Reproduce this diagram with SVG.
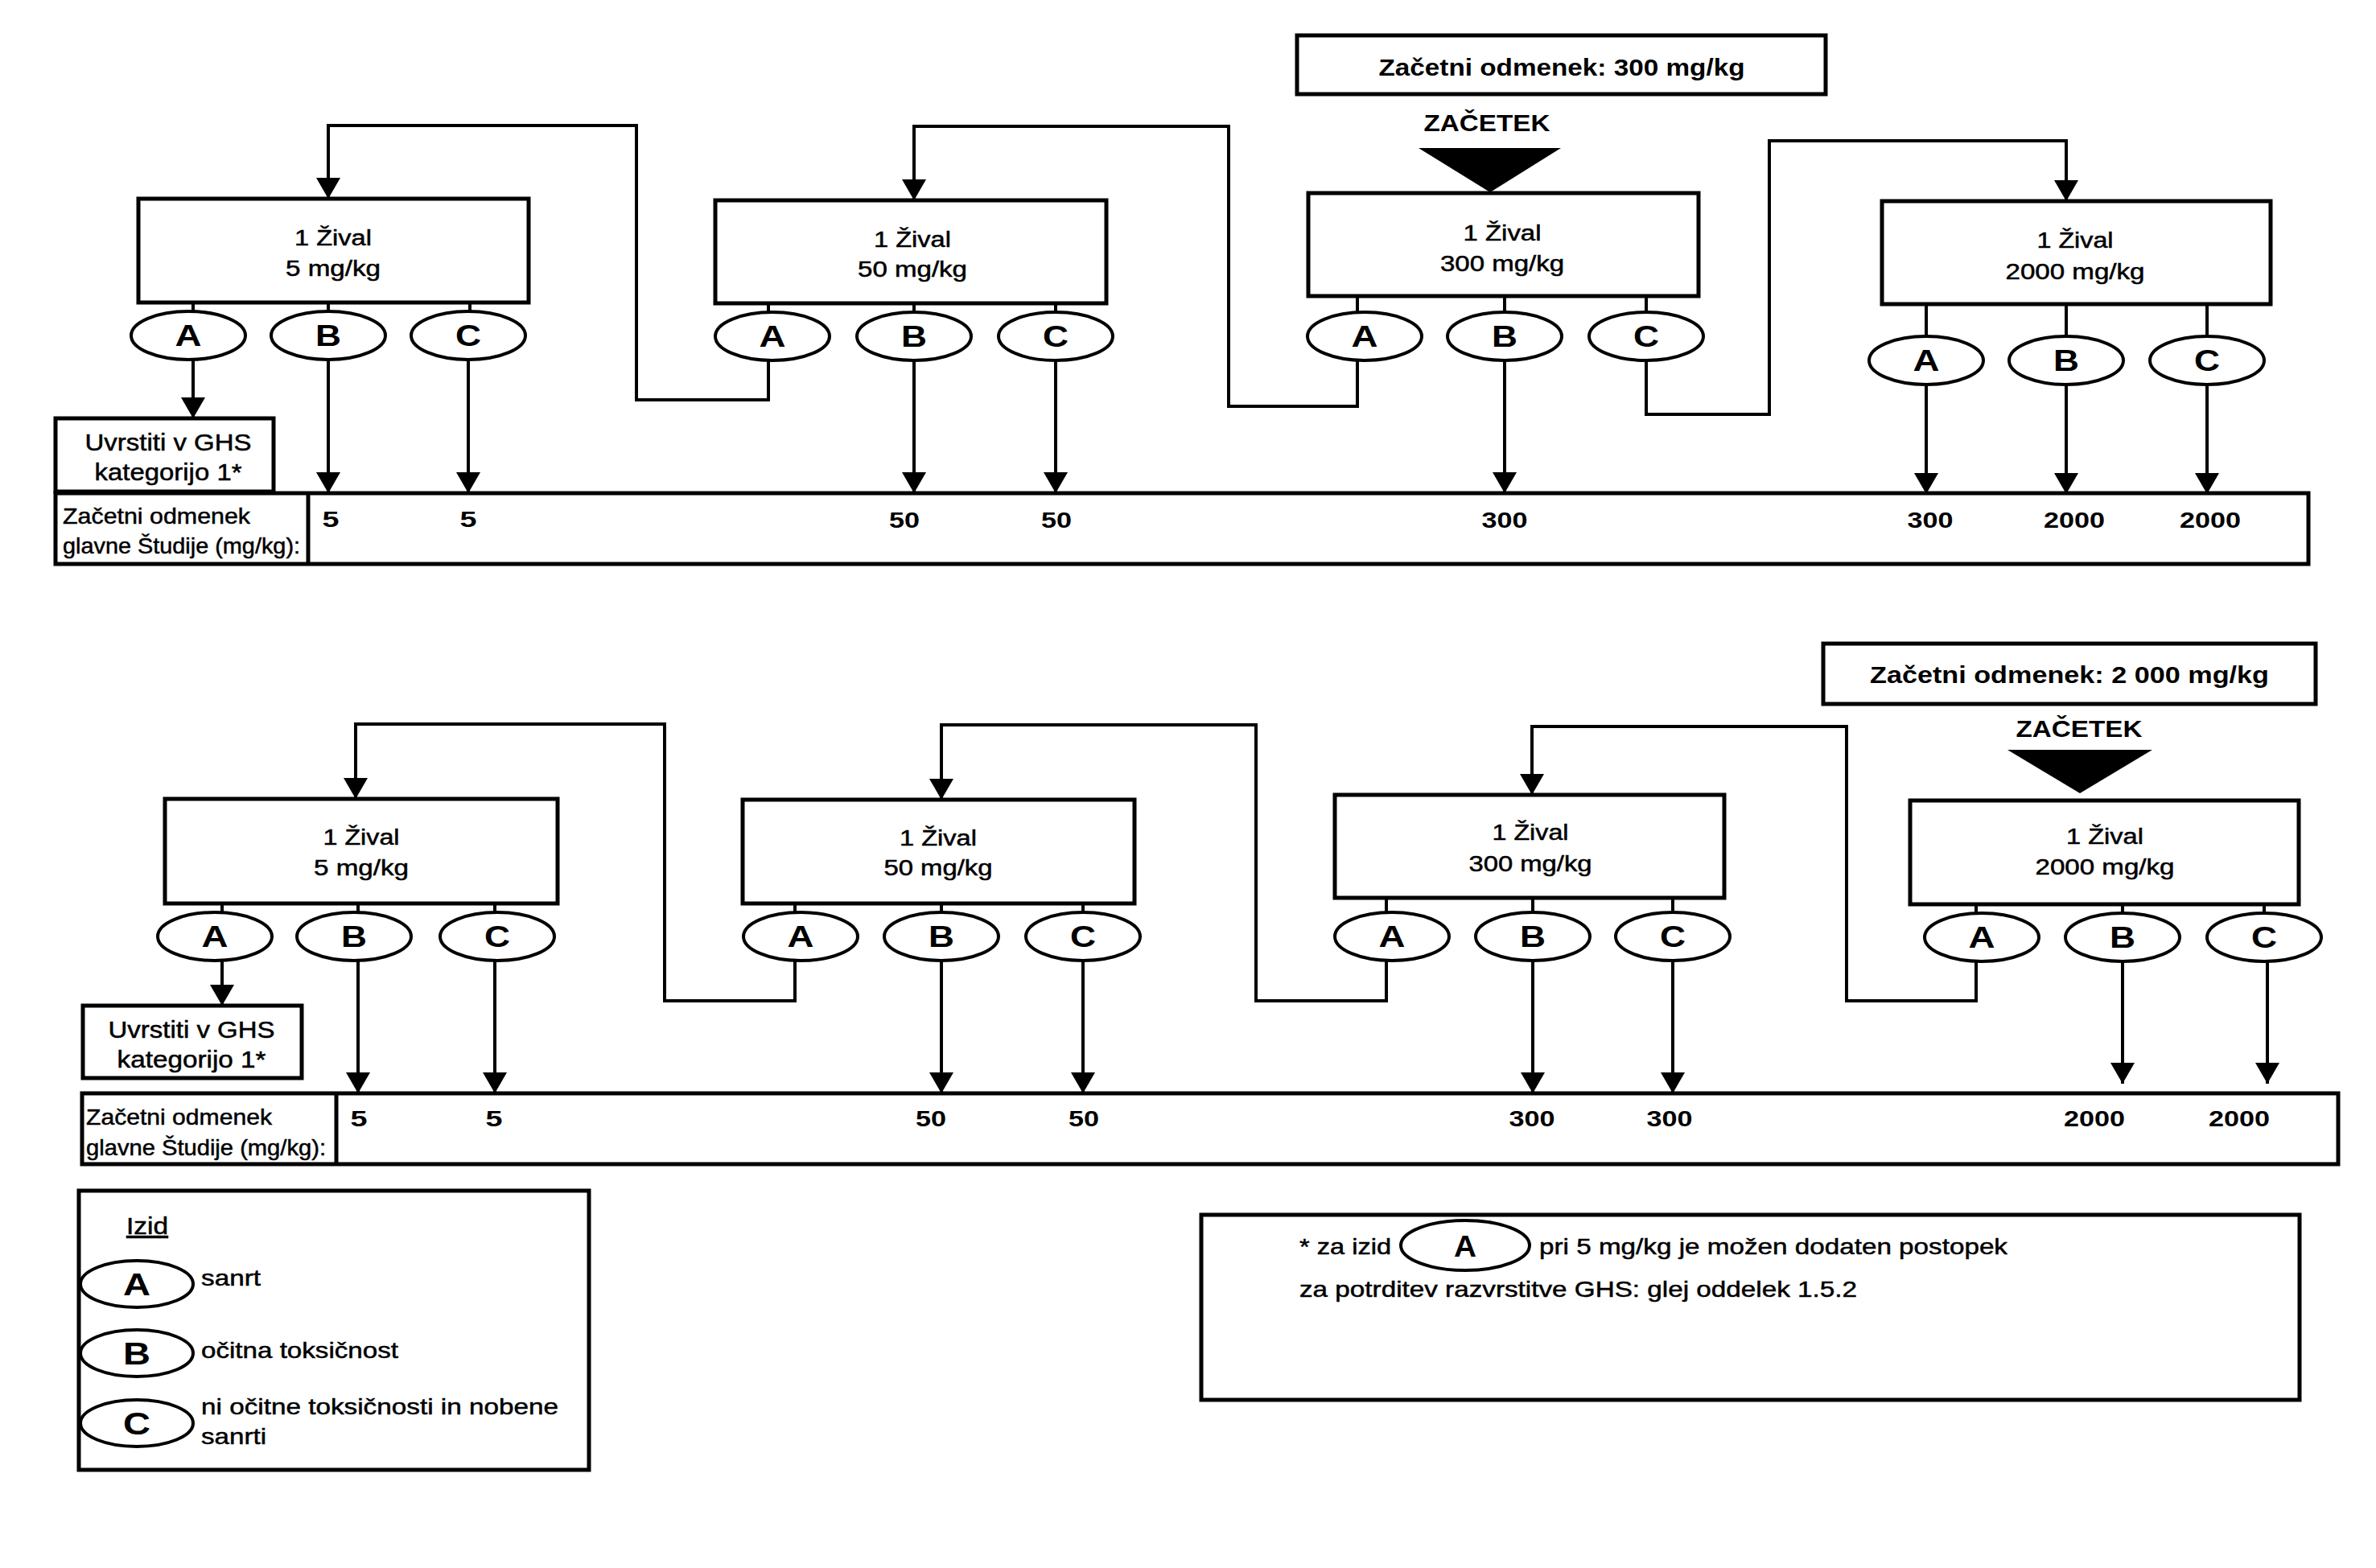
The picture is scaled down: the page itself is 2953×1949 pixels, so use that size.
<svg xmlns="http://www.w3.org/2000/svg" width="2953" height="1949" viewBox="0 0 2953 1949">
<defs>
<style>
.bx{fill:#fff;stroke:#000;stroke-width:5}
.el{fill:#fff;stroke:#000;stroke-width:4}
.cn{fill:none;stroke:#000;stroke-width:4}
.ar{fill:none;stroke:#000;stroke-width:4;marker-end:url(#ah)}
text{font-family:"Liberation Sans",Arial,sans-serif;fill:#000}
.t{font-size:27px;text-anchor:middle;stroke:#000;stroke-width:0.5}
.g{font-size:29px;text-anchor:middle;stroke:#000;stroke-width:0.5}
.lt{font-size:36px;font-weight:bold;text-anchor:middle}
.lt2{font-size:39px;font-weight:bold;text-anchor:middle}
.n{font-size:28px;font-weight:bold;text-anchor:middle}
.lb{font-size:28px;stroke:#000;stroke-width:0.5}
.hd{font-size:30px;font-weight:bold;text-anchor:middle}
.st{font-size:30px;font-weight:bold;text-anchor:middle}
</style>
<marker id="ah" markerUnits="userSpaceOnUse" markerWidth="26" markerHeight="30" viewBox="0 0 26 30" refX="26" refY="15" orient="auto"><path d="M0,0 L26,15 L0,30 z" fill="#000"/></marker>
</defs>
<rect width="2953" height="1949" fill="#fff"/>

<g id="connectors">
<path class="cn" d="M240,376V387M408,376V387M584,376V387M955,377V388M1136,377V388M1312,377V388M1687,368V388M1870,368V388M2046,368V388M2394,378V418M2568,378V418M2743,378V418"/>
<path class="ar" d="M240,447V520"/>
<path class="ar" d="M408,447V613"/>
<path class="ar" d="M582,447V613"/>
<path class="ar" d="M1136,448V613"/>
<path class="ar" d="M1312,448V613"/>
<path class="ar" d="M1870,448V613"/>
<path class="ar" d="M2394,478V614"/>
<path class="ar" d="M2568,478V614"/>
<path class="ar" d="M2743,478V614"/>
<path class="ar" d="M955,448V497H791V156H408V247"/>
<path class="ar" d="M1687,448V505H1527V157H1136V249"/>
<path class="ar" d="M2046,448V515H2199V175H2568V250"/>
<path class="cn" d="M276,1123V1134M445,1123V1134M615,1123V1134M988,1123V1134M1170,1123V1134M1346,1123V1134M1723,1116V1134M1905,1116V1134M2079,1116V1134M2456,1124V1135M2638,1124V1135M2814,1124V1135"/>
<path class="ar" d="M276,1194V1250"/>
<path class="ar" d="M445,1194V1359"/>
<path class="ar" d="M615,1194V1359"/>
<path class="ar" d="M1170,1194V1359"/>
<path class="ar" d="M1346,1194V1359"/>
<path class="ar" d="M1905,1194V1359"/>
<path class="ar" d="M2079,1194V1359"/>
<path class="ar" d="M2638,1195V1347"/>
<path class="ar" d="M2818,1195V1347"/>
<path class="ar" d="M988,1194V1244H826V900H442V993"/>
<path class="ar" d="M1723,1194V1244H1561V901H1170V994"/>
<path class="ar" d="M2456,1195V1244H2295V903H1904V988"/>
</g>

<g id="start-top">
<rect class="bx" x="1612" y="44" width="657" height="73"/>
<text class="hd" x="1941" y="94" textLength="455" lengthAdjust="spacingAndGlyphs">Začetni odmenek: 300 mg/kg</text>
<text class="st" x="1848" y="163" textLength="157" lengthAdjust="spacingAndGlyphs">ZAČETEK</text>
<polygon points="1763,184 1940,184 1852,239" fill="#000"/>
</g>

<g id="t-box1">
<rect class="bx" x="172" y="247" width="485" height="129"/>
<text class="t" x="414" y="305" textLength="96" lengthAdjust="spacingAndGlyphs">1 Žival</text>
<text class="t" x="414" y="343" textLength="118" lengthAdjust="spacingAndGlyphs">5 mg/kg</text>
</g>
<g id="t-box2">
<rect class="bx" x="889" y="249" width="486" height="128"/>
<text class="t" x="1134" y="307" textLength="96" lengthAdjust="spacingAndGlyphs">1 Žival</text>
<text class="t" x="1134" y="344" textLength="136" lengthAdjust="spacingAndGlyphs">50 mg/kg</text>
</g>
<g id="t-box3">
<rect class="bx" x="1626" y="240" width="485" height="128"/>
<text class="t" x="1867" y="299" textLength="97" lengthAdjust="spacingAndGlyphs">1 Žival</text>
<text class="t" x="1867" y="337" textLength="154" lengthAdjust="spacingAndGlyphs">300 mg/kg</text>
</g>
<g id="t-box4">
<rect class="bx" x="2339" y="250" width="483" height="128"/>
<text class="t" x="2579" y="308" textLength="95" lengthAdjust="spacingAndGlyphs">1 Žival</text>
<text class="t" x="2579" y="347" textLength="173" lengthAdjust="spacingAndGlyphs">2000 mg/kg</text>
</g>

<g id="t-outcomes">
<g id="t1A"><ellipse class="el" cx="234" cy="417" rx="71" ry="30"/><text class="lt" x="234" y="430" textLength="33" lengthAdjust="spacingAndGlyphs">A</text></g>
<g id="t1B"><ellipse class="el" cx="408" cy="417" rx="71" ry="30"/><text class="lt" x="408" y="430" textLength="32" lengthAdjust="spacingAndGlyphs">B</text></g>
<g id="t1C"><ellipse class="el" cx="582" cy="417" rx="71" ry="30"/><text class="lt" x="582" y="430" textLength="32" lengthAdjust="spacingAndGlyphs">C</text></g>
<g id="t2A"><ellipse class="el" cx="960" cy="418" rx="71" ry="30"/><text class="lt" x="960" y="431" textLength="33" lengthAdjust="spacingAndGlyphs">A</text></g>
<g id="t2B"><ellipse class="el" cx="1136" cy="418" rx="71" ry="30"/><text class="lt" x="1136" y="431" textLength="32" lengthAdjust="spacingAndGlyphs">B</text></g>
<g id="t2C"><ellipse class="el" cx="1312" cy="418" rx="71" ry="30"/><text class="lt" x="1312" y="431" textLength="32" lengthAdjust="spacingAndGlyphs">C</text></g>
<g id="t3A"><ellipse class="el" cx="1696" cy="418" rx="71" ry="30"/><text class="lt" x="1696" y="431" textLength="33" lengthAdjust="spacingAndGlyphs">A</text></g>
<g id="t3B"><ellipse class="el" cx="1870" cy="418" rx="71" ry="30"/><text class="lt" x="1870" y="431" textLength="32" lengthAdjust="spacingAndGlyphs">B</text></g>
<g id="t3C"><ellipse class="el" cx="2046" cy="418" rx="71" ry="30"/><text class="lt" x="2046" y="431" textLength="32" lengthAdjust="spacingAndGlyphs">C</text></g>
<g id="t4A"><ellipse class="el" cx="2394" cy="448" rx="71" ry="30"/><text class="lt" x="2394" y="461" textLength="33" lengthAdjust="spacingAndGlyphs">A</text></g>
<g id="t4B"><ellipse class="el" cx="2568" cy="448" rx="71" ry="30"/><text class="lt" x="2568" y="461" textLength="32" lengthAdjust="spacingAndGlyphs">B</text></g>
<g id="t4C"><ellipse class="el" cx="2743" cy="448" rx="71" ry="30"/><text class="lt" x="2743" y="461" textLength="32" lengthAdjust="spacingAndGlyphs">C</text></g>
</g>

<g id="t-ghs">
<rect class="bx" x="69" y="520" width="271" height="91"/>
<text class="g" x="209" y="560" textLength="207" lengthAdjust="spacingAndGlyphs">Uvrstiti v GHS</text>
<text class="g" x="209" y="597" textLength="183" lengthAdjust="spacingAndGlyphs">kategorijo 1*</text>
</g>

<g id="t-table">
<rect class="bx" x="69" y="613" width="2800" height="88"/>
<line x1="383" y1="613" x2="383" y2="701" stroke="#000" stroke-width="5"/>
<text class="lb" x="78" y="651" textLength="233" lengthAdjust="spacingAndGlyphs">Začetni odmenek</text>
<text class="lb" x="78" y="688" textLength="295" lengthAdjust="spacingAndGlyphs">glavne Študije (mg/kg):</text>
<text class="n" x="411" y="655" textLength="21" lengthAdjust="spacingAndGlyphs">5</text>
<text class="n" x="582" y="655" textLength="21" lengthAdjust="spacingAndGlyphs">5</text>
<text class="n" x="1124" y="656" textLength="38" lengthAdjust="spacingAndGlyphs">50</text>
<text class="n" x="1313" y="656" textLength="38" lengthAdjust="spacingAndGlyphs">50</text>
<text class="n" x="1870" y="656" textLength="57" lengthAdjust="spacingAndGlyphs">300</text>
<text class="n" x="2399" y="656" textLength="57" lengthAdjust="spacingAndGlyphs">300</text>
<text class="n" x="2578" y="656" textLength="76" lengthAdjust="spacingAndGlyphs">2000</text>
<text class="n" x="2747" y="656" textLength="76" lengthAdjust="spacingAndGlyphs">2000</text>
</g>

<g id="start-bottom">
<rect class="bx" x="2266" y="800" width="612" height="75"/>
<text class="hd" x="2572" y="849" textLength="496" lengthAdjust="spacingAndGlyphs">Začetni odmenek: 2 000 mg/kg</text>
<text class="st" x="2584" y="916" textLength="157" lengthAdjust="spacingAndGlyphs">ZAČETEK</text>
<polygon points="2495,932 2675,932 2585,986" fill="#000"/>
</g>

<g id="b-box1">
<rect class="bx" x="205" y="993" width="488" height="130"/>
<text class="t" x="449" y="1050" textLength="95" lengthAdjust="spacingAndGlyphs">1 Žival</text>
<text class="t" x="449" y="1088" textLength="118" lengthAdjust="spacingAndGlyphs">5 mg/kg</text>
</g>
<g id="b-box2">
<rect class="bx" x="923" y="994" width="487" height="129"/>
<text class="t" x="1166" y="1051" textLength="96" lengthAdjust="spacingAndGlyphs">1 Žival</text>
<text class="t" x="1166" y="1088" textLength="135" lengthAdjust="spacingAndGlyphs">50 mg/kg</text>
</g>
<g id="b-box3">
<rect class="bx" x="1659" y="988" width="484" height="128"/>
<text class="t" x="1902" y="1044" textLength="95" lengthAdjust="spacingAndGlyphs">1 Žival</text>
<text class="t" x="1902" y="1083" textLength="153" lengthAdjust="spacingAndGlyphs">300 mg/kg</text>
</g>
<g id="b-box4">
<rect class="bx" x="2374" y="995" width="483" height="129"/>
<text class="t" x="2616" y="1049" textLength="96" lengthAdjust="spacingAndGlyphs">1 Žival</text>
<text class="t" x="2616" y="1087" textLength="173" lengthAdjust="spacingAndGlyphs">2000 mg/kg</text>
</g>

<g id="b-outcomes">
<g id="b1A"><ellipse class="el" cx="267" cy="1164" rx="71" ry="30"/><text class="lt" x="267" y="1177" textLength="33" lengthAdjust="spacingAndGlyphs">A</text></g>
<g id="b1B"><ellipse class="el" cx="440" cy="1164" rx="71" ry="30"/><text class="lt" x="440" y="1177" textLength="32" lengthAdjust="spacingAndGlyphs">B</text></g>
<g id="b1C"><ellipse class="el" cx="618" cy="1164" rx="71" ry="30"/><text class="lt" x="618" y="1177" textLength="32" lengthAdjust="spacingAndGlyphs">C</text></g>
<g id="b2A"><ellipse class="el" cx="995" cy="1164" rx="71" ry="30"/><text class="lt" x="995" y="1177" textLength="33" lengthAdjust="spacingAndGlyphs">A</text></g>
<g id="b2B"><ellipse class="el" cx="1170" cy="1164" rx="71" ry="30"/><text class="lt" x="1170" y="1177" textLength="32" lengthAdjust="spacingAndGlyphs">B</text></g>
<g id="b2C"><ellipse class="el" cx="1346" cy="1164" rx="71" ry="30"/><text class="lt" x="1346" y="1177" textLength="32" lengthAdjust="spacingAndGlyphs">C</text></g>
<g id="b3A"><ellipse class="el" cx="1730" cy="1164" rx="71" ry="30"/><text class="lt" x="1730" y="1177" textLength="33" lengthAdjust="spacingAndGlyphs">A</text></g>
<g id="b3B"><ellipse class="el" cx="1905" cy="1164" rx="71" ry="30"/><text class="lt" x="1905" y="1177" textLength="32" lengthAdjust="spacingAndGlyphs">B</text></g>
<g id="b3C"><ellipse class="el" cx="2079" cy="1164" rx="71" ry="30"/><text class="lt" x="2079" y="1177" textLength="32" lengthAdjust="spacingAndGlyphs">C</text></g>
<g id="b4A"><ellipse class="el" cx="2463" cy="1165" rx="71" ry="30"/><text class="lt" x="2463" y="1178" textLength="33" lengthAdjust="spacingAndGlyphs">A</text></g>
<g id="b4B"><ellipse class="el" cx="2638" cy="1165" rx="71" ry="30"/><text class="lt" x="2638" y="1178" textLength="32" lengthAdjust="spacingAndGlyphs">B</text></g>
<g id="b4C"><ellipse class="el" cx="2814" cy="1165" rx="71" ry="30"/><text class="lt" x="2814" y="1178" textLength="32" lengthAdjust="spacingAndGlyphs">C</text></g>
</g>

<g id="b-ghs">
<rect class="bx" x="103" y="1250" width="272" height="90"/>
<text class="g" x="238" y="1290" textLength="207" lengthAdjust="spacingAndGlyphs">Uvrstiti v GHS</text>
<text class="g" x="238" y="1327" textLength="185" lengthAdjust="spacingAndGlyphs">kategorijo 1*</text>
</g>

<g id="b-table">
<rect class="bx" x="102" y="1359" width="2804" height="88"/>
<line x1="418" y1="1359" x2="418" y2="1447" stroke="#000" stroke-width="5"/>
<text class="lb" x="107" y="1398" textLength="231" lengthAdjust="spacingAndGlyphs">Začetni odmenek</text>
<text class="lb" x="107" y="1436" textLength="298" lengthAdjust="spacingAndGlyphs">glavne Študije (mg/kg):</text>
<text class="n" x="446" y="1400" textLength="21" lengthAdjust="spacingAndGlyphs">5</text>
<text class="n" x="614" y="1400" textLength="21" lengthAdjust="spacingAndGlyphs">5</text>
<text class="n" x="1157" y="1400" textLength="38" lengthAdjust="spacingAndGlyphs">50</text>
<text class="n" x="1347" y="1400" textLength="38" lengthAdjust="spacingAndGlyphs">50</text>
<text class="n" x="1904" y="1400" textLength="57" lengthAdjust="spacingAndGlyphs">300</text>
<text class="n" x="2075" y="1400" textLength="57" lengthAdjust="spacingAndGlyphs">300</text>
<text class="n" x="2603" y="1400" textLength="76" lengthAdjust="spacingAndGlyphs">2000</text>
<text class="n" x="2783" y="1400" textLength="76" lengthAdjust="spacingAndGlyphs">2000</text>
</g>

<g id="legend">
<rect class="bx" x="98" y="1480" width="634" height="347"/>
<text class="lb" x="157" y="1534" style="font-size:30px" text-decoration="underline" textLength="52" lengthAdjust="spacingAndGlyphs">Izid</text>
<ellipse class="el" cx="170" cy="1596" rx="70" ry="29"/>
<text class="lt2" x="170" y="1610" textLength="34" lengthAdjust="spacingAndGlyphs">A</text>
<text class="lb" x="250" y="1598" textLength="74" lengthAdjust="spacingAndGlyphs">sanrt</text>
<ellipse class="el" cx="170" cy="1682" rx="70" ry="29"/>
<text class="lt2" x="170" y="1696" textLength="34" lengthAdjust="spacingAndGlyphs">B</text>
<text class="lb" x="250" y="1688" textLength="245" lengthAdjust="spacingAndGlyphs">očitna toksičnost</text>
<ellipse class="el" cx="170" cy="1769" rx="70" ry="29"/>
<text class="lt2" x="170" y="1783" textLength="34" lengthAdjust="spacingAndGlyphs">C</text>
<text class="lb" x="250" y="1758" textLength="444" lengthAdjust="spacingAndGlyphs">ni očitne toksičnosti in nobene</text>
<text class="lb" x="250" y="1795" textLength="81" lengthAdjust="spacingAndGlyphs">sanrti</text>
</g>

<g id="footnote">
<rect class="bx" x="1493" y="1510" width="1365" height="230"/>
<text class="lb" x="1615" y="1559" textLength="114" lengthAdjust="spacingAndGlyphs">* za izid</text>
<ellipse class="el" cx="1821" cy="1548" rx="80" ry="31"/>
<text class="lt" x="1821" y="1562" textLength="28" lengthAdjust="spacingAndGlyphs">A</text>
<text class="lb" x="1913" y="1559" textLength="582" lengthAdjust="spacingAndGlyphs">pri 5 mg/kg je možen dodaten postopek</text>
<text class="lb" x="1615" y="1612" textLength="693" lengthAdjust="spacingAndGlyphs">za potrditev razvrstitve GHS: glej oddelek 1.5.2</text>
</g>
</svg>
